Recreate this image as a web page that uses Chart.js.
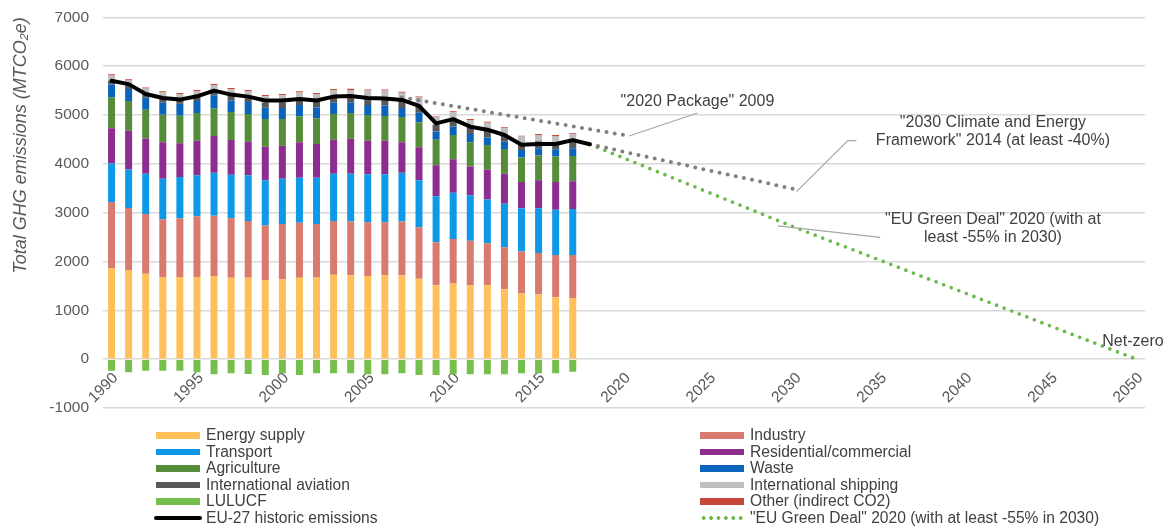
<!DOCTYPE html>
<html>
<head>
<meta charset="utf-8">
<script src="https://cdn.jsdelivr.net/npm/chart.js@4.4.1/dist/chart.umd.min.js"></script>
<style>
  html, body { margin: 0; padding: 0; background: #fff; }
  #wrap { position: relative; width: 1165px; height: 526px; }
  #legend { position: absolute; left: 0; top: 427px; width: 1165px; height: 99px;
    font-family: "Liberation Sans", Arial, sans-serif; font-size: 15.6px; color: #404040; }
  .item { position: absolute; height: 16.5px; line-height: 16.5px; white-space: nowrap; }
  .sw { position: absolute; left: 0; top: 5px; width: 44px; height: 6.5px; }
  .txt { position: absolute; left: 50px; top: 0; }
</style>
</head>
<body>
<div id="wrap">
  <canvas id="ghgChart" width="1165" height="526"></canvas>
  <div id="legend"></div>
</div>
<script>
// categories: one per year, only every 5th is labelled
const firstYear = 1990;
const lastYear = 2050;
const years = [];
for (let y = firstYear; y <= lastYear; y++) years.push(y);

// sector emissions 1990-2017 (MtCO2e)
const energySupply = [1858,1824,1750,1682,1682,1682,1703,1669,1669,1615,1635,1669,1682,1730,1716,1703,1716,1716,1649,1514,1547,1514,1514,1432,1345,1324,1270,1250];
const industry     = [1358,1271,1223,1183,1203,1244,1236,1216,1162,1121,1135,1122,1088,1101,1102,1101,1088,1102,1054,878,912,912,858,859,858,852,865,885];
const transport    = [791,790,824,831,845,838,879,892,933,926,926,925,946,966,979,980,980,1000,959,946,946,932,898,891,885,912,926,939];
const residential  = [723,791,723,743,689,709,750,709,689,689,676,723,689,696,717,689,689,621,676,635,690,588,615,615,540,574,567,568];
const agriculture  = [635,608,588,568,567,568,567,575,567,568,547,534,527,527,527,527,507,520,513,520,493,493,500,507,500,507,521,520];
const waste        = [257,250,243,243,244,243,270,236,244,230,223,230,223,230,209,203,216,183,196,169,176,169,156,149,156,149,148,156];
const intlAviation = [80,75,82,88,85,88,90,100,100,108,118,116,120,118,122,135,140,145,145,135,138,140,142,138,140,142,146,152];
const intlShipping = [108,99,107,121,110,114,112,129,122,127,144,140,150,138,141,163,166,170,164,153,156,148,158,136,133,131,128,135];
const otherCO2     = [25,25,25,25,25,25,25,25,25,25,25,25,25,25,25,23,22,20,20,20,20,20,20,20,20,20,20,20];
const lulucf       = [-236,-270,-236,-236,-236,-270,-311,-291,-304,-324,-291,-324,-291,-291,-291,-311,-311,-291,-324,-324,-311,-311,-311,-311,-291,-291,-291,-257];

// EU-27 historic emissions line 1990-2018
const historic = [5701,5632,5429,5348,5315,5382,5498,5417,5376,5295,5295,5328,5295,5376,5389,5348,5335,5308,5186,4828,4916,4760,4699,4590,4392,4405,4405,4486,4400];

// target pathways (year, value)
const pkg2020Years = [2007, 2020];
const pkg2020Values = [5360, 4590];
const frame2030Years = [2018, 2030];
const frame2030Values = [4400, 3480];
const greenDealYears = [2018, 2030, 2050];
const greenDealValues = [4400, 2700, 0];

const yTicksMin = -1000;
const yTicksMax = 7000;
const yStep = 1000;

function onYears(ys, vs) {
  return years.map(y => { const i = ys.indexOf(y); return i < 0 ? null : vs[i]; });
}

const FONT = '"Liberation Sans", Arial, sans-serif';
const TEXT = '#404040';
const AXIS = '#595959';

function barSet(label, data, color) {
  return { type: 'bar', label, data, backgroundColor: color, borderWidth: 0,
    barPercentage: 0.41, categoryPercentage: 1.0, order: 1 };
}

const datasets = [
  { type: 'line', label: 'EU-27 historic emissions', data: historic, stack: 'hist',
    borderColor: '#000', borderWidth: 4, pointRadius: 0, tension: 0,
    borderJoinStyle: 'round', borderCapStyle: 'round', order: 0 },
  { type: 'line', label: '"2020 Package" 2009', data: onYears(pkg2020Years, pkg2020Values), stack: 'p2020',
    borderColor: '#808080', borderWidth: 4, borderDash: [0, 8.3], borderCapStyle: 'round',
    pointRadius: 0, spanGaps: true, order: 0 },
  { type: 'line', label: '"2030 Climate and Energy Framework" 2014', data: onYears(frame2030Years, frame2030Values), stack: 'f2030',
    borderColor: '#808080', borderWidth: 4, borderDash: [0, 8.3], borderCapStyle: 'round',
    pointRadius: 0, spanGaps: true, order: 0 },
  { type: 'line', label: '"EU Green Deal" 2020 (with at least -55% in 2030)', data: onYears(greenDealYears, greenDealValues), stack: 'gd',
    borderColor: '#6cb94b', borderWidth: 3.7, borderDash: [0, 8.1], borderCapStyle: 'round',
    pointRadius: 0, spanGaps: true, order: 0 },
  barSet('Energy supply', energySupply, '#ffc05c'),
  barSet('Industry', industry, '#d97a6f'),
  barSet('Transport', transport, '#0d98e8'),
  barSet('Residential/commercial', residential, '#8c2d8f'),
  barSet('Agriculture', agriculture, '#558c3a'),
  barSet('Waste', waste, '#0a64bb'),
  barSet('International aviation', intlAviation, '#595959'),
  barSet('International shipping', intlShipping, '#bfbfbf'),
  barSet('Other (indirect CO2)', otherCO2, '#c9473a'),
  barSet('LULUCF', lulucf, '#77bf4d')
];

// annotations placed in data coordinates (year, MtCO2e)
const notes = [
  { lines: ['"2020 Package" 2009'], at: [2024.3, 5281], align: 'center',
    leader: [[2020.3, 4570], [2024.3, 5040]] },
  { lines: ['"2030 Climate and Energy', 'Framework" 2014 (at least -40%)'], at: [2041.6, 4652], align: 'center',
    leader: [[2030.1, 3429], [2033.1, 4476], [2033.6, 4476]] },
  { lines: ['"EU Green Deal" 2020 (with at', 'least -55% in 2030)'], at: [2041.6, 2664], align: 'center',
    leader: [[2029.0, 2731], [2035.0, 2495]] },
  { lines: ['Net-zero'], at: [2048.0, 351], align: 'left', leader: null }
];

const notesPlugin = {
  id: 'notes',
  afterDatasetsDraw(chart) {
    const { ctx, scales: { x, y } } = chart;
    const px = yr => x.getPixelForValue(yr - firstYear);
    ctx.save();
    notes.forEach(n => {
      if (n.leader) {
        ctx.strokeStyle = '#a6a6a6';
        ctx.lineWidth = 1.2;
        ctx.beginPath();
        n.leader.forEach((p, i) => {
          const X = px(p[0]), Y = y.getPixelForValue(p[1]);
          if (i === 0) ctx.moveTo(X, Y); else ctx.lineTo(X, Y);
        });
        ctx.stroke();
      }
      ctx.fillStyle = TEXT;
      ctx.font = '16px ' + FONT;
      ctx.textAlign = n.align;
      ctx.textBaseline = 'middle';
      const cx = px(n.at[0]), cy = y.getPixelForValue(n.at[1]);
      const lh = 18;
      n.lines.forEach((t, i) => {
        ctx.fillText(t, cx, cy + (i - (n.lines.length - 1) / 2) * lh);
      });
    });
    ctx.restore();
  }
};

const ctx = document.getElementById('ghgChart').getContext('2d');
const chart = new Chart(ctx, {
  data: { labels: years.map(String), datasets },
  options: {
    responsive: false,
    animation: false,
    layout: { padding: { left: 0, right: 20, top: 17.3, bottom: 118 } },
    plugins: { legend: { display: false }, tooltip: { enabled: false } },
    scales: {
      x: {
        stacked: true,
        position: { y: 0 },
        grid: { display: false },
        border: { display: false },
        ticks: {
          autoSkip: false, minRotation: 45, maxRotation: 45, padding: 2, labelOffset: 4,
          color: AXIS, font: { family: FONT, size: 15.5 },
          callback: (v, i) => (years[i] % 5 === 0 ? String(years[i]) : '')
        }
      },
      y: {
        stacked: true,
        min: yTicksMin, max: yTicksMax,
        afterFit: s => { s.width = 103; s.paddingTop = 0; s.paddingBottom = 0; },
        grid: { color: '#d9d9d9', lineWidth: 1.5, drawTicks: false },
        border: { display: false },
        ticks: { stepSize: yStep, padding: 14, color: AXIS, font: { family: FONT, size: 15.5 },
          callback: v => String(v) },
        title: {
          display: true, text: 'Total GHG emissions (MTCO₂e)', align: 'end',
          color: AXIS, font: { family: FONT, size: 18, style: 'italic' },
          padding: { top: 10, bottom: 0 }
        }
      }
    }
  },
  plugins: [notesPlugin]
});

// two-column HTML legend built from the datasets
const legendLeft = ['Energy supply', 'Transport', 'Agriculture', 'International aviation', 'LULUCF', 'EU-27 historic emissions'];
const legendRight = ['Industry', 'Residential/commercial', 'Waste', 'International shipping', 'Other (indirect CO2)', '"EU Green Deal" 2020 (with at least -55% in 2030)'];
const legendEl = document.getElementById('legend');

function addLegendColumn(labels, left) {
  labels.forEach((lbl, row) => {
    const ds = chart.data.datasets.find(d => d.label === lbl);
    const item = document.createElement('div');
    item.className = 'item';
    item.style.left = left + 'px';
    item.style.top = (row * 16.5) + 'px';
    const sw = document.createElement('div');
    sw.className = 'sw';
    if (ds.type === 'bar') {
      sw.style.background = ds.backgroundColor;
    } else if (ds.borderDash) {
      sw.style.top = '6px';
      sw.style.height = '4px';
      sw.style.background = `radial-gradient(circle, ${ds.borderColor} 1.6px, transparent 2.1px) 0 0 / 7.4px 4px repeat-x`;
    } else {
      sw.style.left = '-2px';
      sw.style.top = '6px';
      sw.style.width = '48px';
      sw.style.height = '4px';
      sw.style.borderRadius = '2px';
      sw.style.background = ds.borderColor;
    }
    const txt = document.createElement('span');
    txt.className = 'txt';
    txt.textContent = lbl;
    item.appendChild(sw);
    item.appendChild(txt);
    legendEl.appendChild(item);
  });
}
addLegendColumn(legendLeft, 156);
addLegendColumn(legendRight, 700);
</script>
</body>
</html>
